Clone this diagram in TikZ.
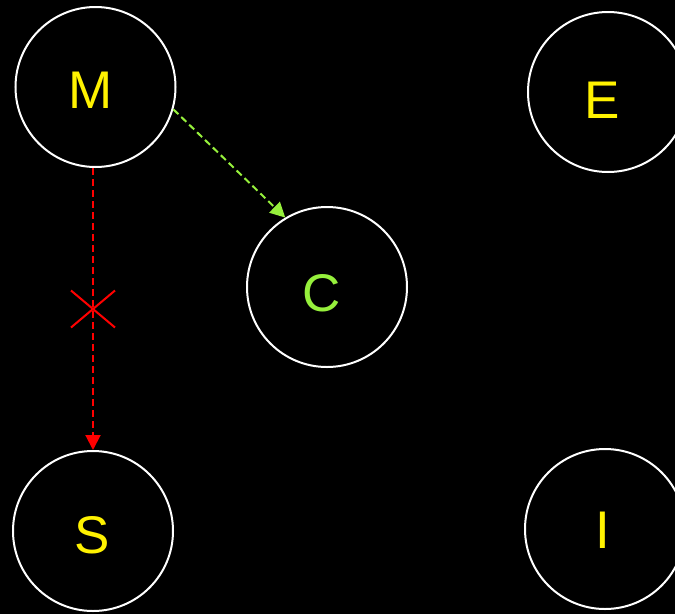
\documentclass[tikz,border=0pt]{standalone}
\usepackage{fontspec}
\setmainfont{Liberation Sans}
\usetikzlibrary{arrows.meta,shapes.misc}
\definecolor{lime}{RGB}{150,240,60}
\tikzset{
  stateball/.style={circle, draw=white, line width=2pt, minimum size=160pt, inner sep=0pt},
  letter/.style={text=yellow, font=\fontsize{53}{53}\selectfont, inner sep=0pt},
  linkline/.style={line width=2pt, dash pattern=on 7pt off 4pt,
    -{Triangle[length=15pt,width=15pt]}},
}
\begin{document}
\begin{tikzpicture}[x=1pt,y=-1pt]
  \fill[black] (0,0) rectangle (675,614);
  \useasboundingbox (0,0) rectangle (675,614);

  % the five states
  \node[stateball] (M) at (95.5,87) {};
  \node[stateball] (E) at (608,92) {};
  \node[stateball] (C) at (327,287) {};
  \node[stateball] (S) at (93,531) {};
  \node[stateball] (I) at (605,529) {};

  \node[letter] (Mt) at (91,90) {M};
  \node[letter] (Et) at (602,100) {E};
  \node[letter, text=lime] (Ct) at (322,293) {C};
  \node[letter] (St) at (92,535) {S};
  \node[letter] (It) at (603,530) {I};

  % transitions
  \draw[linkline, lime] (M.-16) -- (C.121);
  \draw[linkline, red] (S.north |- M.south) -- (S.north)
    node[pos=0.5, cross out, draw=red, line width=2pt, solid,
         minimum width=42pt, minimum height=35pt, inner sep=0pt] (X) {};
\end{tikzpicture}
\end{document}
